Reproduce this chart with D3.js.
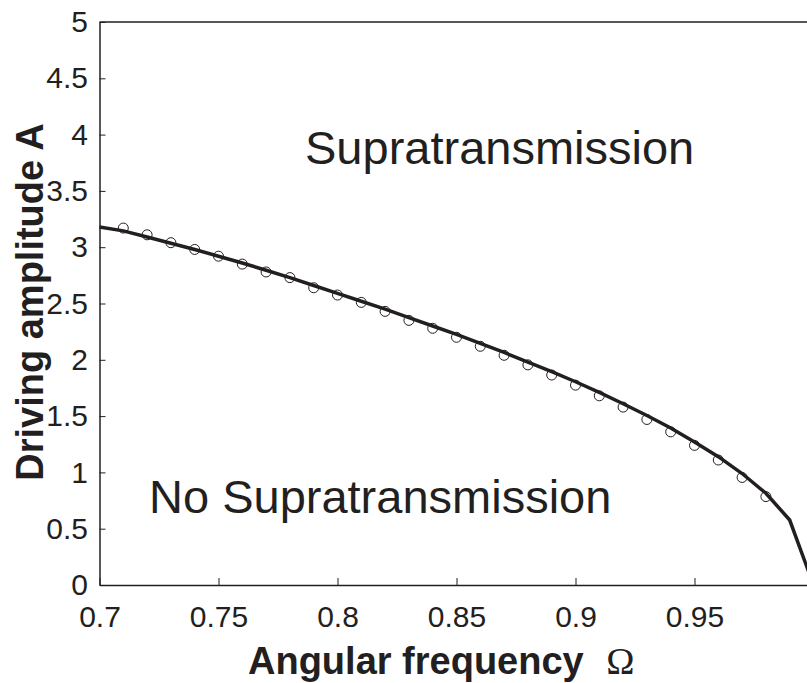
<!DOCTYPE html>
<html>
<head>
<meta charset="utf-8">
<script src="https://cdn.jsdelivr.net/npm/d3@7"></script>
<style>
  body { margin: 0; background: #fff; }
  svg { display: block; font-family: "Liberation Sans", Arial, Helvetica, sans-serif; }
  .tick text { font-size: 30px; fill: #231f20; }
  .title { font-size: 38px; font-weight: bold; fill: #231f20; }
  .region { font-size: 47px; fill: #231f20; }
</style>
</head>
<body>
<svg width="807" height="683"></svg>
<script>
// simulated threshold (solid line)
var omegaLine = [0.70, 0.71, 0.72, 0.73, 0.74, 0.75, 0.76, 0.77, 0.78, 0.79,
  0.80, 0.81, 0.82, 0.83, 0.84, 0.85, 0.86, 0.87, 0.88, 0.89,
  0.90, 0.91, 0.92, 0.93, 0.94, 0.95, 0.96, 0.97, 0.98, 0.99, 1.00]
var ampLine = [3.18, 3.145, 3.09, 3.035, 2.98, 2.92, 2.86, 2.795, 2.73, 2.66,
  2.59, 2.52, 2.45, 2.375, 2.30, 2.225, 2.145, 2.065, 1.98, 1.895,
  1.805, 1.71, 1.61, 1.505, 1.395, 1.27, 1.14, 0.99, 0.815, 0.577, 0]

// measured threshold (open circles)
var omegaPts = [0.71, 0.72, 0.73, 0.74, 0.75, 0.76, 0.77, 0.78, 0.79,
  0.80, 0.81, 0.82, 0.83, 0.84, 0.85, 0.86, 0.87, 0.88, 0.89,
  0.90, 0.91, 0.92, 0.93, 0.94, 0.95, 0.96, 0.97, 0.98]
var ampPts = [3.17, 3.11, 3.04, 2.98, 2.92, 2.85, 2.78, 2.73, 2.64,
  2.575, 2.51, 2.43, 2.35, 2.28, 2.20, 2.12, 2.04, 1.955, 1.865,
  1.775, 1.68, 1.58, 1.47, 1.36, 1.24, 1.11, 0.955, 0.785]

var xTicks = [0.7, 0.75, 0.8, 0.85, 0.9, 0.95, 1]
var xTickLabels = ['0.7', '0.75', '0.8', '0.85', '0.9', '0.95', '1']
var yTicks = [0, 0.5, 1, 1.5, 2, 2.5, 3, 3.5, 4, 4.5, 5]
var yTickLabels = ['0', '0.5', '1', '1.5', '2', '2.5', '3', '3.5', '4', '4.5', '5']

var ink = '#231f20'
var svg = d3.select('svg')

var plotLeft = 99.5, plotRight = 813.5, plotTop = 22, plotBottom = 585

var xScale = d3.scaleLinear().domain([0.7, 1]).range([plotLeft, plotRight])
var yScale = d3.scaleLinear().domain([0, 5]).range([plotBottom, plotTop])

// frame top line
svg.append('line')
  .attr('x1', plotLeft).attr('x2', plotRight)
  .attr('y1', plotTop).attr('y2', plotTop)
  .attr('stroke', ink).attr('stroke-width', 1.5)

var xAxis = svg.append('g')
  .attr('transform', `translate(0, ${plotBottom})`)
  .call(d3.axisBottom(xScale)
    .tickValues(xTicks)
    .tickFormat((d, i) => xTickLabels[i])
    .tickSizeInner(-7)
    .tickSizeOuter(0)
    .tickPadding(20.7))

var yAxis = svg.append('g')
  .attr('transform', `translate(${plotLeft}, 0)`)
  .call(d3.axisLeft(yScale)
    .tickValues(yTicks)
    .tickFormat((d, i) => yTickLabels[i])
    .tickSizeInner(-6)
    .tickSizeOuter(0)
    .tickPadding(11.5))

svg.selectAll('.domain').attr('stroke', ink).attr('stroke-width', 1.5)
svg.selectAll('.tick line').attr('stroke', ink).attr('stroke-width', 1)
xAxis.attr('font-family', null).attr('font-size', null)
yAxis.attr('font-family', null).attr('font-size', null)

// solid curve
var line = d3.line()
  .x((d, i) => xScale(omegaLine[i]))
  .y((d) => yScale(d))

svg.append('path')
  .datum(ampLine)
  .attr('d', line)
  .attr('fill', 'none')
  .attr('stroke', ink)
  .attr('stroke-width', 3.5)
  .attr('stroke-linejoin', 'miter')

// circles
svg.selectAll('.pt')
  .data(ampPts)
  .enter()
  .append('circle')
  .attr('class', 'pt')
  .attr('cx', (d, i) => xScale(omegaPts[i]))
  .attr('cy', (d) => yScale(d))
  .attr('r', 5)
  .attr('fill', 'none')
  .attr('stroke', ink)
  .attr('stroke-width', 1)

// region labels
svg.append('text')
  .attr('class', 'region')
  .attr('x', 305)
  .attr('y', 164)
  .text('Supratransmission')

svg.append('text')
  .attr('class', 'region')
  .attr('x', 149)
  .attr('y', 513)
  .text('No Supratransmission')

// axis titles
var xt = svg.append('text')
  .attr('class', 'title')
  .attr('x', 248)
  .attr('y', 674)
xt.append('tspan').text('Angular frequency ')
xt.append('tspan')
  .attr('dx', 12)
  .attr('font-family', '"Liberation Serif", "Times New Roman", serif')
  .attr('font-weight', 'normal')
  .text('Ω')

svg.append('text')
  .attr('class', 'title')
  .attr('transform', 'translate(43, 302) rotate(-90)')
  .attr('text-anchor', 'middle')
  .text('Driving amplitude A')
</script>
</body>
</html>
